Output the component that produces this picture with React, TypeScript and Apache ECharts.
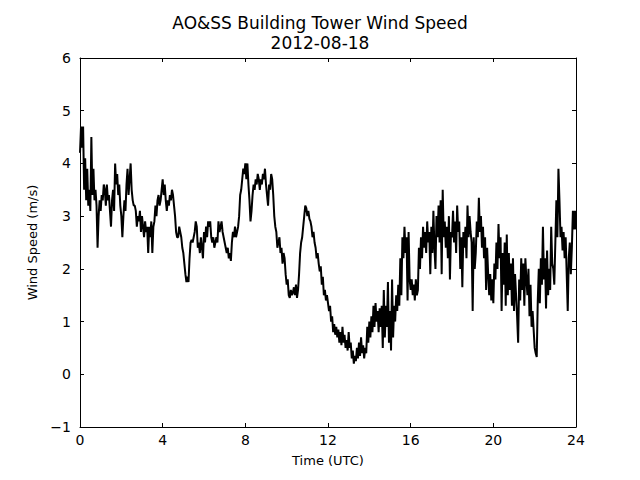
import React, { useEffect, useRef } from "react";
import * as echarts from "echarts";

// Sampling: one reading every 0.05 h (3 minutes) from 00:00 to 24:00 UTC
const startHour = 0;
const stepHours = 0.05;

// Wind speed (m/s), one row per hour, 20 readings each
const speeds: number[] = [
  4.2, 4.7, 4.3, 4.7, 3.5, 4.1, 3.3, 3.9, 3.2, 3.5, 3.1, 4.5, 3.4, 3.9, 3.3, 3.5, 3.2, 2.4, 3.0, 3.3,
  3.1, 3.4, 3.3, 3.6, 3.5, 3.2, 3.6, 3.3, 3.4, 3.1, 2.8, 3.3, 3.5, 3.1, 4.0, 3.6, 3.8, 3.4, 3.6, 3.2,
  3.0, 2.6, 3.0, 3.3, 3.1, 3.6, 3.9, 3.4, 3.7, 4.0, 3.5, 3.3, 3.2, 3.2, 3.1, 2.8, 3.0, 2.9, 3.1, 2.7,
  3.0, 2.8, 2.6, 2.9, 2.7, 2.8, 2.3, 2.8, 2.6, 2.9, 2.3, 2.8, 2.9, 3.2, 3.0, 3.3, 3.4, 3.2, 3.3, 3.5,
  3.7, 3.4, 3.6, 3.3, 3.1, 3.3, 3.2, 3.4, 3.3, 3.5, 3.4, 3.2, 3.0, 2.7, 2.6, 2.6, 2.8, 2.7, 2.6, 2.4,
  2.3, 2.1, 1.9, 1.75, 1.85, 1.75, 2.2, 2.5, 2.55, 2.5, 2.6, 2.7, 2.9, 2.8, 2.4, 2.5, 2.3, 2.6, 2.4, 2.2,
  2.7, 2.5, 2.8, 2.6, 2.9, 2.8, 2.9, 2.6, 2.5, 2.6, 2.4, 2.5, 2.6, 2.5, 2.9, 2.7, 2.8, 2.9, 2.7, 2.6,
  2.5, 2.4, 2.3, 2.4, 2.2, 2.3, 2.15, 2.5, 2.7, 2.6, 2.8, 2.6, 2.7, 2.8, 3.0, 3.4, 3.5, 3.7, 3.9, 3.8,
  4.0, 3.7, 4.0, 3.6, 3.3, 2.9, 3.1, 3.4, 3.6, 3.5, 3.7, 3.6, 3.8, 3.7, 3.5, 3.7, 3.6, 3.8, 3.7, 3.9,
  3.6, 3.4, 3.2, 3.6, 3.5, 3.8, 3.7, 3.4, 3.0, 2.8, 2.7, 2.4, 2.5, 2.6, 2.3, 2.4, 2.1, 2.3, 2.2, 1.9,
  1.7, 1.8, 1.5, 1.45, 1.6, 1.5, 1.55, 1.65, 1.5, 1.7, 1.45, 1.6, 1.9, 2.3, 2.5, 2.6, 2.8, 3.0, 3.2, 3.15,
  3.0, 3.1, 2.95, 2.9, 2.8, 2.6, 2.7, 2.5, 2.4, 2.2, 2.3, 2.1, 1.95, 2.05, 1.7, 1.85, 1.5, 1.6, 1.4, 1.5,
  1.35, 1.2, 1.3, 1.0, 1.1, 0.8, 0.95, 0.75, 0.9, 0.7, 0.85, 0.6, 0.8, 0.55, 0.9, 0.6, 0.75, 0.5, 0.65, 0.45,
  0.8, 0.5, 0.6, 0.3, 0.45, 0.2, 0.35, 0.25, 0.5, 0.3, 0.6, 0.35, 0.7, 0.4, 0.55, 0.3, 0.5, 0.4, 0.9, 0.6,
  1.0, 0.7, 1.1, 0.8, 1.3, 0.9, 1.35, 1.0, 1.2, 0.8, 1.25, 0.9, 1.3, 0.5, 1.6, 0.7, 1.3, 0.9, 1.75, 0.6,
  1.2, 0.45, 1.8, 0.7, 1.3, 1.0, 1.5, 1.2, 1.7, 1.3, 2.2, 1.5, 2.6, 2.2, 2.8, 2.3, 2.6, 1.4, 2.7, 1.8,
  1.6, 1.8, 1.5, 1.7, 1.4, 1.8, 1.5, 1.6, 2.4, 2.0, 2.6, 2.2, 2.8, 2.4, 2.7, 2.3, 2.9, 2.5, 2.7, 1.9,
  2.8, 2.3, 3.1, 2.4, 2.0, 3.0, 2.6, 3.2, 2.5, 3.3, 1.9, 3.5, 2.6, 2.9, 2.4, 2.8, 2.2, 3.0, 1.8, 2.7,
  2.6, 3.1, 2.5, 2.9, 2.3, 3.2, 2.7, 2.9, 2.0, 2.6, 1.65, 2.7, 2.4, 2.8, 2.2, 3.2, 2.6, 3.0, 2.7, 2.5,
  1.2, 2.6, 2.0, 2.3, 2.9, 2.6, 3.35, 2.7, 3.0, 2.4, 2.8, 2.2, 2.6, 1.6, 2.4, 1.9, 1.5, 1.9, 1.4, 1.8,
  1.35, 2.1, 1.8, 2.5, 2.0, 2.85, 2.2, 2.6, 1.2, 2.3, 1.7, 2.5, 1.3, 2.65, 1.5, 2.3, 1.6, 2.1, 1.3, 2.2,
  1.2, 1.9, 1.5, 1.1, 0.6, 1.8, 1.4, 2.2, 1.6, 2.1, 1.3, 2.2, 1.8, 1.5, 2.0, 1.1, 1.7, 0.9, 1.2, 0.85,
  0.5, 0.4, 0.33, 1.4, 2.0, 1.35, 2.2, 1.7, 2.8, 1.8, 2.2, 1.25, 2.35, 1.5, 2.0, 1.6, 2.8, 2.1, 2.0, 1.7,
  2.5, 3.3, 2.6, 3.9, 3.3, 2.6, 2.8, 2.35, 2.7, 2.2, 2.6, 1.9, 1.2, 2.2, 2.5, 1.9, 2.4, 3.1, 2.75, 3.1,
  2.75,
];

const titleText = "AO&SS Building Tower Wind Speed";
const subtitleText = "2012-08-18";
const xAxisName = "Time (UTC)";
const yAxisName = "Wind Speed (m/s)";
const xMin = 0;
const xMax = 24;
const xInterval = 4;
const yMin = -1;
const yMax = 6;
const yInterval = 1;

const FONT = "DejaVu Sans";

export default function App() {
  const ref = useRef<HTMLDivElement>(null);

  useEffect(() => {
    document.body.style.margin = "0";
    if (!ref.current) return;
    const chart = echarts.init(ref.current, null, { renderer: "svg" });
    const data = speeds.map((v, i) => [startHour + i * stepHours, v]);
    const minus = (v: number) => (v < 0 ? "\u2212" + Math.abs(v) : String(v));

    const axisLine = { show: true, onZero: false, lineStyle: { color: "#000", width: 1 } };
    const tick = { show: true, inside: true, length: 4, lineStyle: { color: "#000", width: 1 } };

    chart.setOption({
      animation: false,
      backgroundColor: "#fff",
      title: {
        text: titleText + "\n" + subtitleText,
        left: "center",
        top: 8,
        textStyle: {
          fontFamily: FONT,
          fontSize: 17,
          fontWeight: "normal",
          color: "#000",
          lineHeight: 20,
        },
      },
      grid: { left: 80, right: 64, top: 58, bottom: 53, containLabel: false },
      xAxis: [
        {
          type: "value",
          min: xMin,
          max: xMax,
          interval: xInterval,
          position: "bottom",
          name: xAxisName,
          nameLocation: "middle",
          nameGap: 27,
          nameTextStyle: { fontFamily: FONT, fontSize: 13, color: "#000" },
          axisLine,
          axisTick: tick,
          axisLabel: { fontFamily: FONT, fontSize: 14, color: "#000", margin: 6 },
          splitLine: { show: false },
        },
        {
          type: "value",
          min: xMin,
          max: xMax,
          interval: xInterval,
          position: "top",
          axisLine,
          axisTick: tick,
          axisLabel: { show: false },
          splitLine: { show: false },
        },
      ],
      yAxis: [
        {
          type: "value",
          min: yMin,
          max: yMax,
          interval: yInterval,
          position: "left",
          name: yAxisName,
          nameLocation: "middle",
          nameGap: 35,
          nameRotate: 90,
          nameTextStyle: { fontFamily: FONT, fontSize: 13, color: "#000" },
          axisLine,
          axisTick: tick,
          axisLabel: {
            fontFamily: FONT,
            fontSize: 14,
            color: "#000",
            margin: 9,
            formatter: (v: number) => minus(v),
          },
          splitLine: { show: false },
        },
        {
          type: "value",
          min: yMin,
          max: yMax,
          interval: yInterval,
          position: "right",
          axisLine,
          axisTick: tick,
          axisLabel: { show: false },
          splitLine: { show: false },
        },
      ],
      series: [
        {
          type: "line",
          xAxisIndex: 0,
          yAxisIndex: 0,
          data,
          showSymbol: false,
          symbol: "none",
          lineStyle: { color: "#000", width: 2 },
          clip: true,
        },
      ],
    });

    return () => chart.dispose();
  }, []);

  return <div ref={ref} style={{ width: 640, height: 480 }} />;
}
